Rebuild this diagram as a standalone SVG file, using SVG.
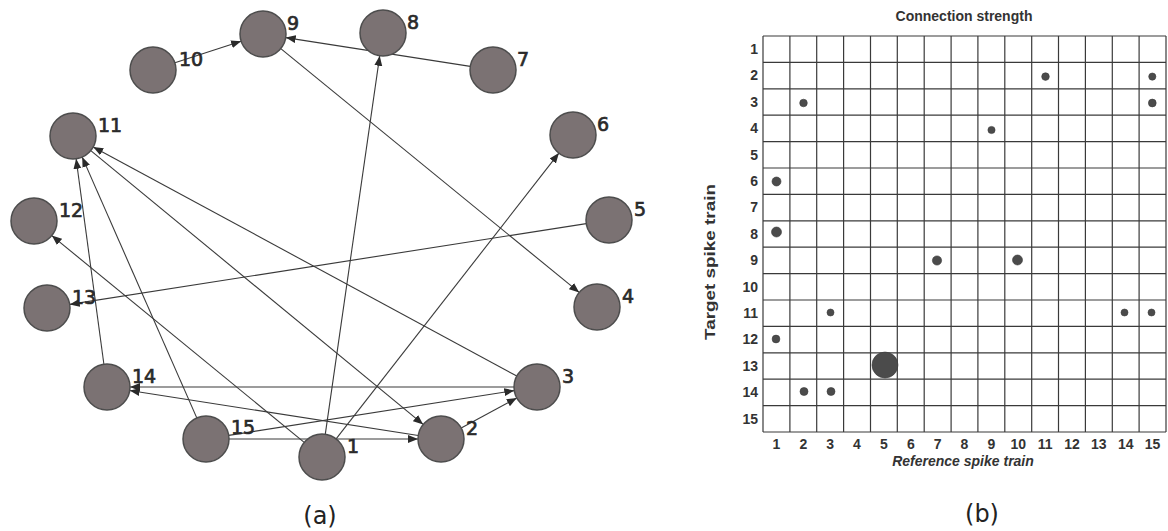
<svg xmlns="http://www.w3.org/2000/svg" width="1168" height="531" viewBox="0 0 1168 531">
<style>
.node{fill:#7b7273;stroke:#4d4d4d;stroke-width:1.5}
.nl{font-family:"DejaVu Sans",sans-serif;font-size:19px;fill:#2a2a2a;stroke:#2a2a2a;stroke-width:0.7}
.edge{stroke:#3a3a3a;stroke-width:1.1;fill:none;marker-end:url(#ah)}
.cap{font-family:"DejaVu Sans",sans-serif;font-size:24px;fill:#222;text-anchor:middle}
.grid line{stroke:#3a3a3a;stroke-width:1.2}
.ax{font-family:"Liberation Sans",Arial,sans-serif;font-weight:bold;font-size:14px;fill:#333}
.dot{fill:#4b4b4b;stroke:#3a3a3a;stroke-width:0.6}
</style>
<defs>
<marker id="ah" markerUnits="userSpaceOnUse" markerWidth="11" markerHeight="9" refX="10" refY="4" orient="auto">
<path d="M0,0 L10,4 L0,8 z" fill="#2a2a2a"/>
</marker>
</defs>
<rect width="1168" height="531" fill="#ffffff"/>
<g id="connectors">
<line class="edge" x1="90.8" y1="150.6" x2="423.2" y2="424.4"/>
<line class="edge" x1="229" y1="439" x2="418" y2="439"/>
<line class="edge" x1="461.2" y1="428.1" x2="516.8" y2="398.0"/>
<line class="edge" x1="228.7" y1="435.4" x2="514.3" y2="390.6"/>
<line class="edge" x1="280.8" y1="48.6" x2="579.2" y2="292.4"/>
<line class="edge" x1="336.1" y1="438.9" x2="558.9" y2="153.1"/>
<line class="edge" x1="325.3" y1="434.2" x2="379.7" y2="55.8"/>
<line class="edge" x1="470.3" y1="66.4" x2="285.7" y2="37.6"/>
<line class="edge" x1="174.9" y1="62.8" x2="241.1" y2="41.2"/>
<line class="edge" x1="516.8" y1="376.1" x2="93.2" y2="146.9"/>
<line class="edge" x1="103.9" y1="364.2" x2="76.1" y2="158.8"/>
<line class="edge" x1="196.8" y1="417.9" x2="82.2" y2="157.1"/>
<line class="edge" x1="304.2" y1="442.4" x2="51.8" y2="235.6"/>
<line class="edge" x1="586.3" y1="223.6" x2="69.7" y2="304.4"/>
<line class="edge" x1="418.3" y1="435.5" x2="129.7" y2="390.5"/>
<line class="edge" x1="514" y1="387" x2="130" y2="387"/>
</g>
<g id="n1"><circle class="node" cx="322" cy="457" r="23"/><text class="nl" x="347" y="453">1</text></g>
<g id="n2"><circle class="node" cx="441" cy="439" r="23"/><text class="nl" x="466" y="435">2</text></g>
<g id="n3"><circle class="node" cx="537" cy="387" r="23"/><text class="nl" x="562" y="383">3</text></g>
<g id="n4"><circle class="node" cx="597" cy="307" r="23"/><text class="nl" x="622" y="303">4</text></g>
<g id="n5"><circle class="node" cx="609" cy="220" r="23"/><text class="nl" x="634" y="216">5</text></g>
<g id="n6"><circle class="node" cx="573" cy="135" r="23"/><text class="nl" x="597" y="131">6</text></g>
<g id="n7"><circle class="node" cx="493" cy="70" r="23"/><text class="nl" x="517" y="66">7</text></g>
<g id="n8"><circle class="node" cx="383" cy="33" r="23"/><text class="nl" x="407" y="29">8</text></g>
<g id="n9"><circle class="node" cx="263" cy="34" r="23"/><text class="nl" x="287" y="30">9</text></g>
<g id="n10"><circle class="node" cx="153" cy="70" r="23"/><text class="nl" x="179" y="66">10</text></g>
<g id="n11"><circle class="node" cx="73" cy="136" r="23"/><text class="nl" x="98" y="132">11</text></g>
<g id="n12"><circle class="node" cx="34" cy="221" r="23"/><text class="nl" x="59" y="217">12</text></g>
<g id="n13"><circle class="node" cx="47" cy="308" r="23"/><text class="nl" x="72" y="304">13</text></g>
<g id="n14"><circle class="node" cx="107" cy="387" r="23"/><text class="nl" x="132" y="383">14</text></g>
<g id="n15"><circle class="node" cx="206" cy="439" r="23"/><text class="nl" x="231" y="434">15</text></g>
<text class="cap" x="320" y="524">(a)</text>

<g id="matrix">
<text class="ax" x="964" y="21" text-anchor="middle" font-size="13">Connection strength</text>
<text class="ax" x="963" y="466" text-anchor="middle" font-style="italic">Reference spike train</text>
<text class="ax" transform="translate(715,262) rotate(-90)" text-anchor="middle" textLength="156" lengthAdjust="spacingAndGlyphs">Target spike train</text>
<g class="grid">
<line x1="763" y1="36" x2="763" y2="432"/>
<line x1="789.9" y1="36" x2="789.9" y2="432"/>
<line x1="816.7" y1="36" x2="816.7" y2="432"/>
<line x1="843.6" y1="36" x2="843.6" y2="432"/>
<line x1="870.5" y1="36" x2="870.5" y2="432"/>
<line x1="897.3" y1="36" x2="897.3" y2="432"/>
<line x1="924.2" y1="36" x2="924.2" y2="432"/>
<line x1="951.1" y1="36" x2="951.1" y2="432"/>
<line x1="977.9" y1="36" x2="977.9" y2="432"/>
<line x1="1004.8" y1="36" x2="1004.8" y2="432"/>
<line x1="1031.7" y1="36" x2="1031.7" y2="432"/>
<line x1="1058.5" y1="36" x2="1058.5" y2="432"/>
<line x1="1085.4" y1="36" x2="1085.4" y2="432"/>
<line x1="1112.3" y1="36" x2="1112.3" y2="432"/>
<line x1="1139.1" y1="36" x2="1139.1" y2="432"/>
<line x1="1166" y1="36" x2="1166" y2="432"/>
<line x1="763" y1="36" x2="1166" y2="36"/>
<line x1="763" y1="62.4" x2="1166" y2="62.4"/>
<line x1="763" y1="88.8" x2="1166" y2="88.8"/>
<line x1="763" y1="115.2" x2="1166" y2="115.2"/>
<line x1="763" y1="141.6" x2="1166" y2="141.6"/>
<line x1="763" y1="168" x2="1166" y2="168"/>
<line x1="763" y1="194.4" x2="1166" y2="194.4"/>
<line x1="763" y1="220.8" x2="1166" y2="220.8"/>
<line x1="763" y1="247.2" x2="1166" y2="247.2"/>
<line x1="763" y1="273.6" x2="1166" y2="273.6"/>
<line x1="763" y1="300" x2="1166" y2="300"/>
<line x1="763" y1="326.4" x2="1166" y2="326.4"/>
<line x1="763" y1="352.8" x2="1166" y2="352.8"/>
<line x1="763" y1="379.2" x2="1166" y2="379.2"/>
<line x1="763" y1="405.6" x2="1166" y2="405.6"/>
<line x1="763" y1="432" x2="1166" y2="432"/>
</g>
<g class="ax" text-anchor="end">
<text x="758" y="54">1</text>
<text x="758" y="80">2</text>
<text x="758" y="107">3</text>
<text x="758" y="133">4</text>
<text x="758" y="160">5</text>
<text x="758" y="186">6</text>
<text x="758" y="212">7</text>
<text x="758" y="239">8</text>
<text x="758" y="265">9</text>
<text x="758" y="292">10</text>
<text x="758" y="318">11</text>
<text x="758" y="344">12</text>
<text x="758" y="371">13</text>
<text x="758" y="397">14</text>
<text x="758" y="424">15</text>
</g>
<g class="ax" text-anchor="middle">
<text x="776.4" y="449">1</text>
<text x="803.3" y="449">2</text>
<text x="830.2" y="449">3</text>
<text x="857" y="449">4</text>
<text x="883.9" y="449">5</text>
<text x="910.8" y="449">6</text>
<text x="937.6" y="449">7</text>
<text x="964.5" y="449">8</text>
<text x="991.4" y="449">9</text>
<text x="1018.2" y="449">10</text>
<text x="1045.1" y="449">11</text>
<text x="1072" y="449">12</text>
<text x="1098.8" y="449">13</text>
<text x="1125.7" y="449">14</text>
<text x="1152.6" y="449">15</text>
</g>
<g id="dots">
<circle class="dot" cx="1045.5" cy="76.6" r="3.8"/>
<circle class="dot" cx="1152.3" cy="76.6" r="3.6"/>
<circle class="dot" cx="803.5" cy="103" r="3.8"/>
<circle class="dot" cx="1152.3" cy="103" r="3.9"/>
<circle class="dot" cx="991.5" cy="130" r="3.6"/>
<circle class="dot" cx="776.5" cy="181.5" r="4.5"/>
<circle class="dot" cx="776.5" cy="232" r="5"/>
<circle class="dot" cx="937" cy="260.5" r="4.6"/>
<circle class="dot" cx="1017.5" cy="260" r="5"/>
<circle class="dot" cx="830.5" cy="312.5" r="3.5"/>
<circle class="dot" cx="1124.5" cy="312.5" r="3.5"/>
<circle class="dot" cx="1151.5" cy="312.5" r="3.5"/>
<circle class="dot" cx="776" cy="339" r="3.9"/>
<circle class="dot" cx="885" cy="365" r="13"/>
<circle class="dot" cx="804" cy="391.5" r="4"/>
<circle class="dot" cx="831" cy="391.5" r="4"/>
</g>
</g>
<text class="cap" x="982" y="522">(b)</text>
</svg>
